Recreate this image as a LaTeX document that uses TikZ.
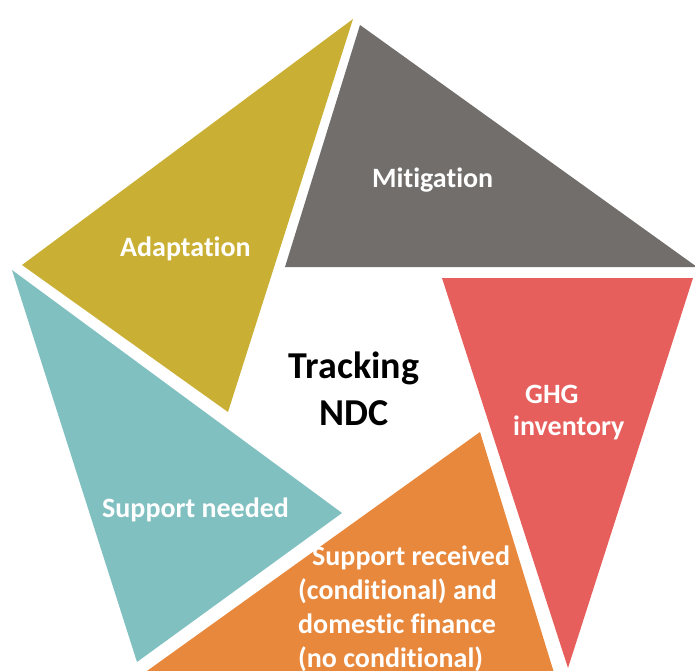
\documentclass[tikz,border=0pt]{standalone}
\usepackage{fontspec}
\setmainfont[Ligatures={NoCommon}]{Carlito}
\definecolor{olive}{HTML}{C9B034}
\definecolor{slate}{HTML}{716E6B}
\definecolor{coral}{HTML}{E65F5C}
\definecolor{tang}{HTML}{E8883C}
\definecolor{teal}{HTML}{81C0C0}
\tikzset{
  lbl/.style={text=white, font=\bfseries\fontsize{28bp}{34bp}\selectfont, inner sep=0pt, align=left},
  ctr/.style={text=black, font=\bfseries\fontsize{38bp}{47bp}\selectfont, inner sep=0pt, align=center}
}
\begin{document}
\begin{tikzpicture}[x=1bp,y=-1bp]
\useasboundingbox (0,0) rectangle (695,671);
\clip (0,0) rectangle (695,671);
% triangles
\fill[olive] (353,19) -- (22,265) -- (228,412) -- cycle;
\fill[slate] (360,25) -- (285,267) -- (697,267) -- cycle;
\fill[coral] (442,278) -- (693,278) -- (568,668) -- cycle;
\fill[tang] (480,432) -- (140,676) -- (555,676) -- cycle;
\fill[teal] (12,270) -- (342,513) -- (137,662) -- cycle;
% labels
\node[lbl, anchor=base west] (adapt) at (120,256) {Adaptation};
\node[lbl, anchor=base west] (mitig) at (372,187) {Mitigation};
\node[lbl, anchor=base west] (ghg) at (525,403) {GHG};
\node[lbl, anchor=base west] (inv) at (513,435) {inventory};
\node[lbl, anchor=base west] (need) at (102,517) {Support needed};
\node[ctr, anchor=base] (track) at (354,425) {Tracking\\NDC};
\node[lbl, anchor=base west] (recv) at (298,667) {\hspace*{14bp}Support received\\(conditional) and\\domestic finance\\(no conditional)};
\end{tikzpicture}
\end{document}
